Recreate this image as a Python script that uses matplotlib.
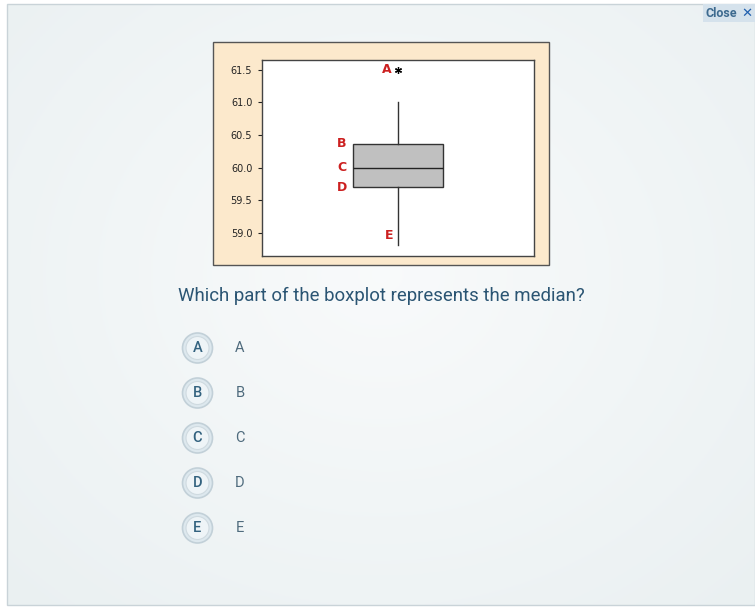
import numpy as np
import matplotlib
matplotlib.use('Agg')
import matplotlib.pyplot as plt
from matplotlib.patches import Rectangle, Circle

# boxplot values
q1 = 59.70
median = 60.00
q3 = 60.37
whisker_low = 58.82
whisker_high = 61.00
outliers = [61.5]

yticks = [59.0, 59.5, 60.0, 60.5, 61.0, 61.5]

# part labels and where they sit (value on the y axis)
part_labels = ['A', 'B', 'C', 'D', 'E']
part_values = [61.5, 60.37, 60.0, 59.70, 58.97]
part_x = [0.458, 0.293, 0.293, 0.293, 0.467]

question = 'Which part of the boxplot represents the median?'
choice_letters = ['A', 'B', 'C', 'D', 'E']
choice_texts = ['A', 'B', 'C', 'D', 'E']

ui_font = ['Roboto', 'DejaVu Sans']

W, H = 755, 607
fig = plt.figure(figsize=(W / 100, H / 100), dpi=100)
fig.patch.set_facecolor('white')

# page overlay in pixel coordinates
bg = fig.add_axes([0, 0, 1, 1])
bg.set_xlim(0, W)
bg.set_ylim(H, 0)
bg.axis('off')

# soft gradient panel
yy, xx = np.mgrid[0:1:200j, 0:1:250j]
r = np.sqrt(((xx - 0.5) / 0.75) ** 2 + ((yy - 0.45) / 0.8) ** 2)
r = np.clip(r, 0, 1)
c_in = np.array([0.975, 0.982, 0.985])
c_out = np.array([0.915, 0.94, 0.945])
img = c_in[None, None, :] * (1 - r[..., None]) + c_out[None, None, :] * r[..., None]
bg.imshow(img, extent=(7, W, 605, 4), aspect='auto', zorder=0)
bg.add_patch(Rectangle((7, 4), W - 7, 601, fill=False, edgecolor='#c9d3d8', lw=1, zorder=1))

# close button
bg.add_patch(Rectangle((703, 4), 52, 18, facecolor='#d5e2ec', edgecolor='none', zorder=2))
bg.text(706, 13.5, 'Close', fontsize=9, color='#3d6a8f', fontweight='bold',
        family=ui_font, va='center', ha='left', zorder=3)
bg.text(741, 13.5, '\u2715', fontsize=9.5, color='#1f5fae', fontweight='bold',
        family=['DejaVu Sans'], va='center', ha='left', zorder=3)

# beige frame behind the chart
bg.add_patch(Rectangle((213, 42), 336, 223, facecolor='#fce9cc', edgecolor='#555555', lw=1, zorder=2))

# question and answer choices
bg.text(178, 296, question, fontsize=13.4, color='#2b5573', family=ui_font,
        va='center', ha='left')
for i, (let, txt) in enumerate(zip(choice_letters, choice_texts)):
    cy = 348 + 45 * i
    bg.add_patch(Circle((197.5, cy), 15, facecolor='#dde8ee', edgecolor='#c2d0d8', lw=1.2, zorder=2))
    bg.add_patch(Circle((197.5, cy), 11.5, facecolor='#eef4f7', edgecolor='#cfdae0', lw=0.8, zorder=3))
    bg.text(197.5, cy, let, fontsize=10.5, color='#33627f', family=ui_font,
            fontweight='medium', va='center', ha='center', zorder=4)
    bg.text(240, cy, txt, fontsize=10.5, color='#4f6b7d', family=ui_font,
            va='center', ha='center')

# the boxplot itself
ax = fig.add_axes([262 / W, (H - 256) / H, 272 / W, (256 - 60) / H])
ax.set_facecolor('white')
stats = [dict(med=median, q1=q1, q3=q3, whislo=whisker_low, whishi=whisker_high,
              fliers=outliers)]
ax.bxp(stats, positions=[0.5], widths=0.33, showcaps=False, patch_artist=True,
       boxprops=dict(facecolor='#c0c0c0', edgecolor='#333333', lw=1),
       medianprops=dict(color='#222222', lw=1),
       whiskerprops=dict(color='#333333', lw=1),
       flierprops=dict(marker=(6, 2, 0), markersize=5, markerfacecolor='black',
                       markeredgecolor='black', markeredgewidth=0.9))
ax.set_xlim(0, 1)
ax.set_ylim(58.65, 61.65)
ax.set_xticks([])
ax.set_yticks(yticks)
ax.set_yticklabels(['%.1f' % v for v in yticks])
ax.tick_params(axis='y', direction='out', length=3, width=0.8, pad=4,
               labelsize=7, colors='#222222')
for s in ax.spines.values():
    s.set_color('#444444')
    s.set_linewidth(1)

for lab, v, x in zip(part_labels, part_values, part_x):
    ax.text(x, v, lab, color='#cc2020', fontsize=9, fontweight='bold',
            ha='center', va='center')

fig.savefig('out.png', dpi=100)
